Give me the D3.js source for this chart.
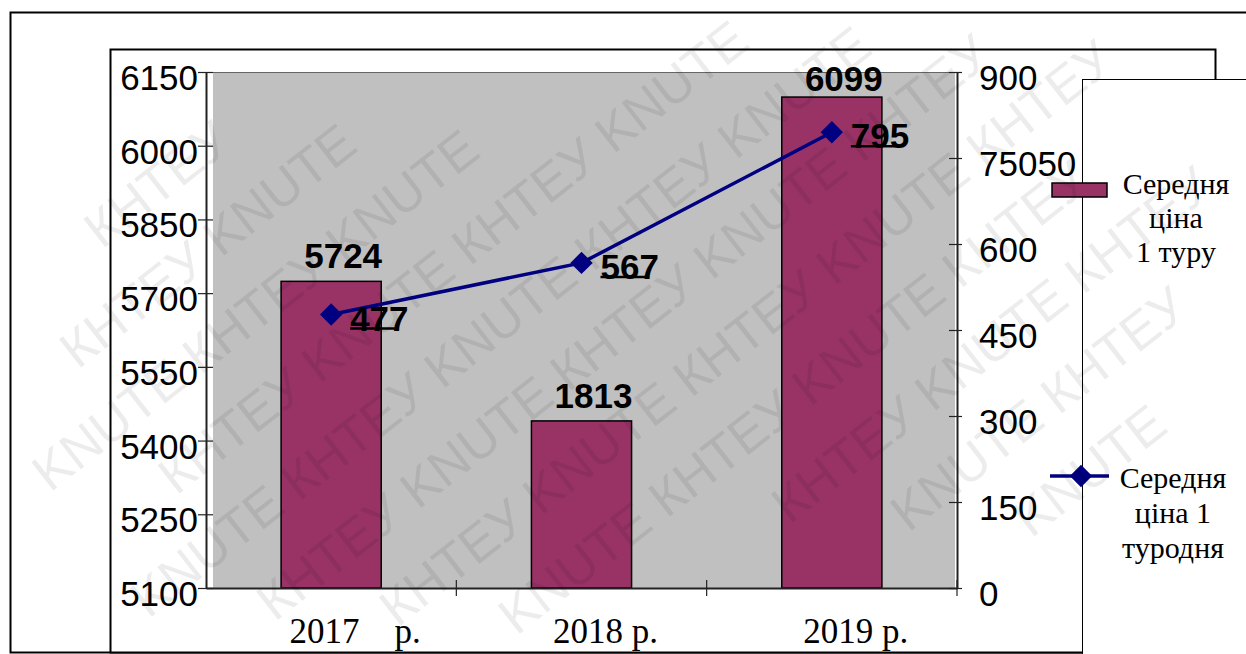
<!DOCTYPE html>
<html>
<head>
<meta charset="utf-8">
<script src="https://cdn.jsdelivr.net/npm/d3@7"></script>
<style>
  html, body { margin: 0; padding: 0; background: #fff; overflow: hidden; }
  svg { display: block; }
  text { white-space: pre; }
</style>
</head>
<body>
<script>
// Chart data
const years = ["2017    р.", "2018 р.", "2019 р."];
const barHeights = [5724, 5440, 6099];      // where the bars end on the left axis
const barLabels = ["5724", "1813", "6099"];  // what the bars are labelled with
const lineValues = [477, 567, 795];
const leftTicks = [5100, 5250, 5400, 5550, 5700, 5850, 6000, 6150];
const rightTicks = [0, 150, 300, 450, 600, 750, 900];
const rightTickLabels = ["0", "150", "300", "450", "600", "75050", "900"];
const legendBar = ["Середня", "ціна", "1 туру"];
const legendLine = ["Середня", "ціна 1", "туродня"];
const watermarkWords = ["КНТЕУ", "KNUTE"];

const W = 1246, H = 654;
const plot = {left: 206, right: 957, top: 72, bottom: 588};
const barColour = "#993366", lineColour = "#000080";
const axisFont = "'Liberation Sans', Arial, sans-serif";
const serif = "'Liberation Serif', 'Times New Roman', serif";

const svg = d3.select("body").append("svg")
    .attr("width", W)
    .attr("height", H);

// Frames
svg.append("rect")
    .attr("x", 10.5).attr("y", 12.5)
    .attr("width", 1300).attr("height", 640)
    .attr("fill", "#fff").attr("stroke", "#000").attr("stroke-width", 2);
svg.append("rect")
    .attr("x", 110.5).attr("y", 49.5)
    .attr("width", 1105).attr("height", 603)
    .attr("fill", "#fff").attr("stroke", "#000").attr("stroke-width", 2);

// Scales
const x = d3.scaleBand()
    .domain(years)
    .range([plot.left, plot.right])
    .paddingInner(0.6)
    .paddingOuter(0.3);
const yLeft = d3.scaleLinear()
    .domain([5100, 6150])
    .range([plot.bottom, plot.top]);
const yRight = d3.scaleLinear()
    .domain([0, 900])
    .range([plot.bottom, plot.top]);

// Grey plot area
svg.append("rect")
    .attr("x", plot.left + 7).attr("y", plot.top)
    .attr("width", plot.right - plot.left - 9)
    .attr("height", plot.bottom - plot.top)
    .attr("fill", "#c0c0c0");
svg.append("line")
    .attr("x1", plot.left).attr("x2", plot.right)
    .attr("y1", plot.top + 0.5).attr("y2", plot.top + 0.5)
    .attr("stroke", "#666").attr("stroke-width", 1);

// Bars
svg.selectAll("rect.bar")
    .data(barHeights)
    .enter()
    .append("rect")
    .attr("class", "bar")
    .attr("x", (d, i) => x(years[i]))
    .attr("y", (d) => yLeft(d))
    .attr("width", x.bandwidth())
    .attr("height", (d) => plot.bottom - yLeft(d))
    .attr("fill", barColour)
    .attr("stroke", "#000")
    .attr("stroke-width", 1.5);

// Axes
const left = svg.append("g")
    .attr("transform", `translate(${plot.left}, 0)`)
    .call(d3.axisLeft(yLeft).tickValues(leftTicks).tickFormat(d3.format("d"))
        .tickSizeInner(8).tickSizeOuter(0).tickPadding(0));
const right = svg.append("g")
    .attr("transform", `translate(${plot.right}, 0)`)
    .call(d3.axisRight(yRight).tickValues(rightTicks).tickSizeInner(5).tickSizeOuter(0)
        .tickFormat((d, i) => rightTickLabels[i]).tickPadding(17));
const bottom = svg.append("g")
    .attr("transform", `translate(0, ${plot.bottom})`)
    .call(d3.axisBottom(x).tickSize(0).tickPadding(55));

[left, right, bottom].forEach((g) => {
    g.select(".domain").attr("stroke", "#222").attr("stroke-width", 2);
    g.selectAll(".tick line").attr("stroke", "#222").attr("stroke-width", 1.2);
});
// ticks cross the axis line
left.selectAll(".tick line").attr("x1", 7);
right.selectAll(".tick line").attr("x1", -8);
left.selectAll(".tick text")
    .attr("font-family", axisFont).attr("font-size", 35).attr("fill", "#000")
    .attr("dy", "0.5em");
right.selectAll(".tick text")
    .attr("font-family", axisFont).attr("font-size", 35).attr("fill", "#000")
    .attr("dy", "0.5em");
bottom.selectAll(".tick text")
    .attr("font-family", serif)
    .attr("font-size", 35).attr("fill", "#000")
    .attr("dx", 24).attr("dy", 0);

// Category separators on the x axis
const seps = years.slice(1).map((d) => x(d) - x.step() * x.paddingInner() / 2);
seps.push(plot.right);
svg.selectAll("line.sep")
    .data(seps)
    .enter()
    .append("line")
    .attr("x1", (d) => d).attr("x2", (d) => d)
    .attr("y1", plot.bottom - 8).attr("y2", plot.bottom + 8)
    .attr("stroke", "#222").attr("stroke-width", 1.2);

// Bar labels
svg.selectAll("text.barlabel")
    .data(barHeights)
    .enter()
    .append("text")
    .attr("class", "barlabel")
    .attr("x", (d, i) => x(years[i]) + x.bandwidth() / 2 + 12)
    .attr("y", (d) => Math.max(yLeft(d) - 13, 91))
    .attr("text-anchor", "middle")
    .attr("font-family", axisFont)
    .attr("font-weight", "bold")
    .attr("font-size", 35)
    .text((d, i) => barLabels[i]);

// Line series
const cx = (i) => x(years[i]) + x.bandwidth() / 2;
svg.append("path")
    .datum(lineValues)
    .attr("fill", "none")
    .attr("stroke", lineColour)
    .attr("stroke-width", 3.5)
    .attr("d", d3.line()
        .x((d, i) => cx(i))
        .y((d) => yRight(d)));

const diamond = d3.symbol().type(d3.symbolSquare).size(250);
svg.selectAll("path.pt")
    .data(lineValues)
    .enter()
    .append("path")
    .attr("class", "pt")
    .attr("d", diamond)
    .attr("transform", (d, i) => `translate(${cx(i)}, ${yRight(d)}) rotate(45)`)
    .attr("fill", lineColour);

// Line labels, each with its little stroke through the base
svg.selectAll("text.ptlabel")
    .data(lineValues)
    .enter()
    .append("text")
    .attr("class", "ptlabel")
    .attr("x", (d, i) => cx(i) + 19)
    .attr("y", (d) => yRight(d) + 16)
    .attr("font-family", axisFont)
    .attr("font-weight", "bold")
    .attr("font-size", 35)
    .text((d) => d);
svg.selectAll("line.ptmark")
    .data(lineValues)
    .enter()
    .append("line")
    .attr("x1", (d, i) => cx(i) + 19).attr("x2", (d, i) => cx(i) + 64)
    .attr("y1", (d) => yRight(d) + 14).attr("y2", (d) => yRight(d) + 14)
    .attr("stroke", "#000").attr("stroke-width", 2.5);

// Legend
svg.append("rect")
    .attr("x", 1082.5).attr("y", 79.5)
    .attr("width", 200).attr("height", 600)
    .attr("fill", "#fff").attr("stroke", "#000").attr("stroke-width", 1);
svg.append("rect")
    .attr("x", 1052).attr("y", 183)
    .attr("width", 55).attr("height", 14)
    .attr("fill", barColour).attr("stroke", "#000").attr("stroke-width", 1.5);
svg.selectAll("text.leg1")
    .data(legendBar)
    .enter()
    .append("text")
    .attr("x", 1176)
    .attr("y", (d, i) => 194 + i * 34)
    .attr("text-anchor", "middle")
    .attr("font-family", serif)
    .attr("font-size", 30)
    .text((d) => d);
svg.append("line")
    .attr("x1", 1050).attr("x2", 1109)
    .attr("y1", 476).attr("y2", 476)
    .attr("stroke", lineColour).attr("stroke-width", 3.5);
svg.append("path")
    .attr("d", diamond)
    .attr("transform", "translate(1081, 476) rotate(45)")
    .attr("fill", lineColour);
svg.selectAll("text.leg2")
    .data(legendLine)
    .enter()
    .append("text")
    .attr("x", 1173)
    .attr("y", (d, i) => 488 + i * 35)
    .attr("text-anchor", "middle")
    .attr("font-family", serif)
    .attr("font-size", 30)
    .text((d) => d);

// Watermark: words laid out along tilted rows, kept only where the whole word fits the page
const wmSize = 52, rowGap = 80, angle = -38;
const probe = svg.append("text")
    .attr("font-family", axisFont).attr("font-size", wmSize)
    .text(watermarkWords.join(" ") + " ");
const wordStep = probe.node().getComputedTextLength() / 2;
probe.remove();

const rad = angle * Math.PI / 180;
const halfW = wordStep / 2, halfH = wmSize * 0.58;
const extX = halfW * Math.abs(Math.cos(rad)) + halfH * Math.abs(Math.sin(rad));
const extY = halfW * Math.abs(Math.sin(rad)) + halfH * Math.abs(Math.cos(rad));
const words = [];
d3.range(-8, 9).forEach((r) => {
    d3.range(-9, 10).forEach((k) => {
        const u = k * wordStep + (r % 2 ? wordStep / 2 : 0);
        const v = r * rowGap;
        const px = W / 2 + u * Math.cos(rad) - v * Math.sin(rad);
        const py = H / 2 + u * Math.sin(rad) + v * Math.cos(rad);
        if (px - extX > 0 && px + extX < W && py - extY > 0 && py + extY < H)
            words.push({px, py, text: watermarkWords[((k % 2) + 2) % 2]});
    });
});
svg.append("g")
    .attr("class", "watermark")
    .style("pointer-events", "none")
    .selectAll("text")
    .data(words)
    .enter()
    .append("text")
    .attr("transform", (d) => `translate(${d.px}, ${d.py}) rotate(${angle})`)
    .attr("text-anchor", "middle")
    .attr("dy", "0.35em")
    .attr("font-family", axisFont)
    .attr("font-size", wmSize)
    .attr("fill", "#000")
    .attr("fill-opacity", 0.075)
    .text((d) => d.text);
</script>
</body>
</html>
